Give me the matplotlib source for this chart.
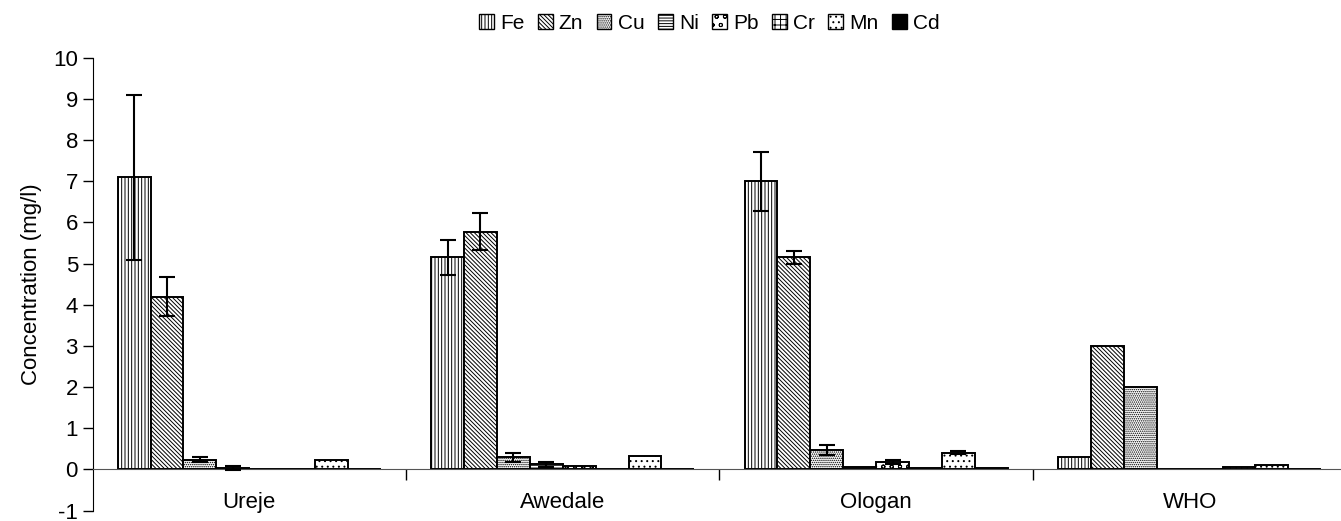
import numpy as np
import matplotlib.pyplot as plt
from matplotlib.patches import Patch

plt.rcParams['font.family'] = ['Liberation Sans', 'DejaVu Sans']
plt.rcParams['hatch.linewidth'] = 0.7
plt.rcParams['axes.unicode_minus'] = False

sites = ["Ureje", "Awedale", "Ologan", "WHO"]
metals = ["Fe", "Zn", "Cu", "Ni", "Pb", "Cr", "Mn", "Cd"]

# concentration (mg/l) per metal, one value per site
fe = [7.1, 5.15, 7.0, 0.3]
zn = [4.2, 5.78, 5.15, 3.0]
cu = [0.23, 0.29, 0.47, 2.0]
ni = [0.03, 0.12, 0.07, 0.0]
pb = [0.01, 0.09, 0.19, 0.0]
cr = [0.01, 0.01, 0.03, 0.05]
mn = [0.24, 0.33, 0.41, 0.1]
cd = [0.0, 0.0, 0.03, 0.0]

# standard errors (no error bars for WHO)
fe_err = [2.0, 0.42, 0.72, 0]
zn_err = [0.48, 0.44, 0.16, 0]
cu_err = [0.06, 0.12, 0.13, 0]
ni_err = [0.05, 0.07, 0.0, 0]
pb_err = [0.0, 0.0, 0.05, 0]
cr_err = [0, 0, 0, 0]
mn_err = [0.0, 0.0, 0.03, 0]
cd_err = [0, 0, 0, 0]

values = [fe, zn, cu, ni, pb, cr, mn, cd]
errors = [fe_err, zn_err, cu_err, ni_err, pb_err, cr_err, mn_err, cd_err]
hatches = ["|||||", "\\\\\\\\\\\\\\\\", "........", "------", "oo", "+++", "...", ".."]
faces = ["white"] * 7 + ["black"]

fig = plt.figure(figsize=(13.41, 5.21), dpi=100)
ax = fig.add_axes([0.069, 0.02, 0.935, 0.869])

x = np.arange(len(sites)) + 0.5
width = 0.105
n = len(metals)
for i in range(n):
    pos = x + (i - (n - 1) / 2) * width
    err = np.array(errors[i], dtype=float)
    ax.bar(pos, values[i], width, facecolor=faces[i], edgecolor="black",
           linewidth=1.4, hatch=hatches[i], zorder=2)
    mask = err > 0
    if mask.any():
        ax.errorbar(pos[mask], np.array(values[i])[mask], yerr=err[mask], fmt="none",
                    ecolor="black", elinewidth=1.5, capsize=6, capthick=1.5, zorder=3)

ax.set_xlim(0, 4)
ax.set_ylim(-1, 10)
ax.set_yticks(range(-1, 11))
ax.set_xticks(x)
ax.set_xticklabels(sites)
ax.set_xticks([1, 2, 3], minor=True)
ax.tick_params(axis="x", which="major", length=0, pad=16, labelsize=16)
ax.tick_params(axis="x", which="minor", length=8, direction="out", width=1)
ax.tick_params(axis="y", labelsize=16, length=7, width=1, direction="out")
ax.spines["top"].set_visible(False)
ax.spines["right"].set_visible(False)
ax.spines["bottom"].set_position(("data", 0))
ax.spines["bottom"].set_color("#555555")
ax.set_ylabel("Concentration (mg/l)", fontsize=16, labelpad=8)

handles = [Patch(facecolor=faces[i], edgecolor="black", hatch=hatches[i], label=metals[i])
           for i in range(n)]
fig.legend(handles=handles, loc="upper center", bbox_to_anchor=(0.529, 1.01), ncol=n,
           frameon=False, fontsize=15, handlelength=0.7, handleheight=0.7,
           handletextpad=0.3, columnspacing=0.65)

fig.savefig("out.png", dpi=100)
